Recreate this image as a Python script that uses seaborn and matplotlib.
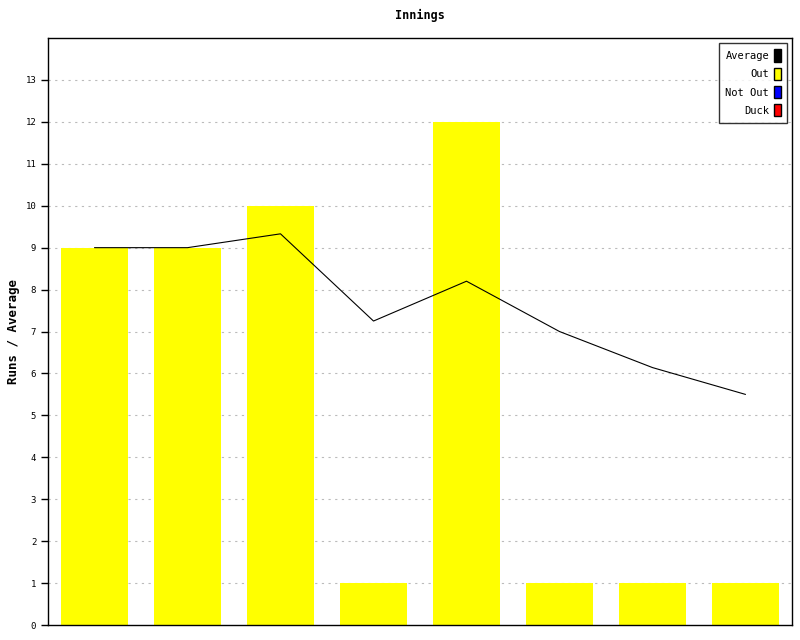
import numpy as np
import pandas as pd
import seaborn as sns
import matplotlib.pyplot as plt
from matplotlib.patches import Patch

innings = ["1", "2", "3", "4", "5", "6", "7", "8"]
runs = [9, 9, 10, 1, 12, 1, 1, 1]
average = [9.0, 9.0, 9.33, 7.25, 8.2, 7.0, 6.14, 5.5]
legend_labels = ["Average", "Out", "Not Out", "Duck"]
legend_colors = ["black", "yellow", "blue", "red"]

df = pd.DataFrame({"innings": innings, "runs": runs, "average": average,
                   "pos": np.arange(len(innings))})

sns.set_style("white")
plt.rcParams["font.family"] = ["DejaVu Sans Mono", "DejaVu Sans"]
plt.rcParams["text.color"] = "black"
plt.rcParams["axes.labelcolor"] = "black"
plt.rcParams["ytick.color"] = "black"

fig = plt.figure(figsize=(8, 6.4), dpi=100)
ax = fig.add_axes([0.06, 0.0234, 0.93, 0.9172])

sns.barplot(data=df, x="innings", y="runs", color="yellow", saturation=1,
            width=0.71, linewidth=0, ax=ax, zorder=2)
sns.lineplot(data=df, x="pos", y="average", color="black", linewidth=0.8,
             ax=ax, zorder=3)

ax.set_xlim(-0.5, 7.5)
ax.set_ylim(0, 14)
ax.set_yticks(range(0, 14))
ax.set_xticks([])
ax.set_xlabel("")
ax.set_ylabel("Runs / Average", fontsize=9, fontweight="bold")
ax.set_title("Innings", fontsize=8.5, fontweight="bold", pad=14)
ax.tick_params(axis="y", labelsize=6.5, length=5, width=1, direction="out", left=True)
for y in range(1, 14):
    ax.axhline(y, color="#bbbbbb", linestyle=(0, (2, 4)), linewidth=0.8, zorder=1)
for s in ax.spines.values():
    s.set_color("black")
    s.set_linewidth(1)

handles = [Patch(facecolor=c, edgecolor="black") for c in legend_colors]
leg = ax.legend(handles, legend_labels, loc="upper right", markerfirst=False,
                fontsize=7.5, frameon=True, fancybox=False, handlelength=0.6,
                handleheight=1.4, handletextpad=0.5, borderpad=0.6,
                labelspacing=0.6, borderaxespad=0.5)
leg.get_frame().set_edgecolor("black")
leg.get_frame().set_linewidth(1)

fig.savefig("out.png", dpi=100)
